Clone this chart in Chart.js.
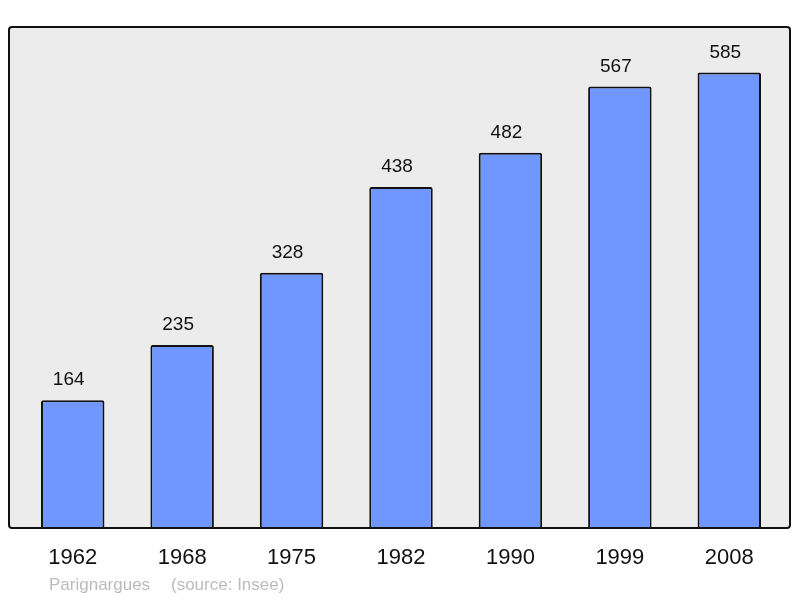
<!DOCTYPE html>
<html>
<head>
<meta charset="utf-8">
<script src="https://cdn.jsdelivr.net/npm/chart.js@4/dist/chart.umd.min.js"></script>
<style>
  html, body { margin: 0; padding: 0; background: #fff; }
  #wrap { width: 800px; height: 598px; }
</style>
</head>
<body>
<div id="wrap"><canvas id="myChart" width="800" height="598"></canvas></div>
<script>
// data
const years = ['1962', '1968', '1975', '1982', '1990', '1999', '2008'];
const population = [164, 235, 328, 438, 482, 567, 585];
const townName = 'Parignargues';
const sourceText = '(source: Insee)';

// grey frame behind the bars
const framePlugin = {
    id: 'frame',
    beforeDraw(chart) {
        const c = chart.ctx;
        const a = chart.chartArea;
        c.save();
        c.beginPath();
        c.roundRect(9, a.top, 781, a.bottom - a.top, 3);
        c.fillStyle = '#ececec';
        c.fill();
        c.restore();
    },
    afterDatasetsDraw(chart) {
        const c = chart.ctx;
        const a = chart.chartArea;
        c.save();
        c.beginPath();
        c.roundRect(9, a.top, 781, a.bottom - a.top, 3);
        c.lineWidth = 2;
        c.strokeStyle = '#111';
        c.stroke();
        c.restore();
    }
};

// numbers above bars + footer
const labelPlugin = {
    id: 'labels',
    afterDraw(chart) {
        const c = chart.ctx;
        const meta = chart.getDatasetMeta(0);
        c.save();
        c.font = '19px "Liberation Sans", Arial, sans-serif';
        c.fillStyle = '#111';
        c.textAlign = 'center';
        c.textBaseline = 'alphabetic';
        meta.data.forEach(function(bar, i) {
            c.fillText(String(population[i]), bar.x - 4, bar.y - 15);
        });
        c.font = '17px "Liberation Sans", Arial, sans-serif';
        c.fillStyle = '#bbbbbb';
        c.textAlign = 'left';
        c.fillText(townName, 49, 590);
        c.fillText(sourceText, 171, 590);
        c.restore();
    }
};

const ctx = document.getElementById('myChart').getContext('2d');
const chart = new Chart(ctx, {
    type: 'bar',
    data: {
        labels: years,
        datasets: [{
            data: population,
            backgroundColor: 'rgb(112, 150, 255)',
            borderColor: '#111',
            borderWidth: 2,
            borderRadius: 2,
            categoryPercentage: 1,
            barPercentage: 0.58
        }]
    },
    options: {
        responsive: false,
        animation: false,
        layout: { padding: { left: 18, right: 16, top: 27, bottom: 20 } },
        plugins: {
            legend: { display: false },
            tooltip: { enabled: false }
        },
        scales: {
            x: {
                grid: { display: false },
                border: { display: false },
                ticks: {
                    color: '#111',
                    padding: 9,
                    font: { size: 22, family: '"Liberation Sans", Arial, sans-serif' }
                },
                afterFit: function(s) { s.height = 50; }
            },
            y: {
                display: false,
                min: 0,
                max: 643.5
            }
        }
    },
    plugins: [framePlugin, labelPlugin]
});
</script>
</body>
</html>
